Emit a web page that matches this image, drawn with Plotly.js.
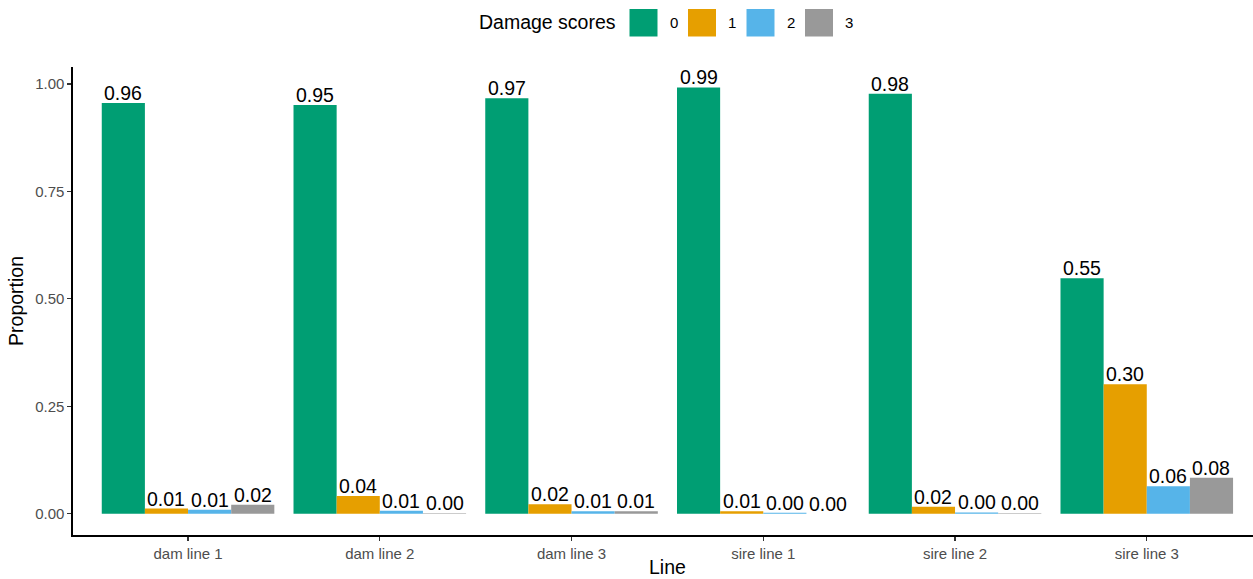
<!DOCTYPE html>
<html>
<head>
<meta charset="utf-8">
<script src="https://cdn.plot.ly/plotly-3.0.1.min.js"></script>
<style>
html,body{margin:0;padding:0;background:#fff;}
#chart{width:1253px;height:579px;}
</style>
</head>
<body>
<div id="chart"></div>
<script>
const categories = ['dam line 1','dam line 2','dam line 3','sire line 1','sire line 2','sire line 3'];
const scoreLabels = ['0','1','2','3'];
const score0 = [0.956, 0.951, 0.967, 0.992, 0.977, 0.548];
const score1 = [0.012, 0.041, 0.022, 0.006, 0.016, 0.301];
const score2 = [0.009, 0.007, 0.006, 0.002, 0.003, 0.064];
const score3 = [0.021, 0.001, 0.006, 0.000, 0.001, 0.084];
const yTickVals = [0, 0.25, 0.5, 0.75, 1.0];
const yTickText = ['0.00','0.25','0.50','0.75','1.00'];
const colors = ['#009E73','#E69F00','#56B4E9','#999999'];
const xTitle = 'Line';
const yTitle = 'Proportion';
const legendTitle = 'Damage scores';

const FONT = 'Liberation Sans, Arial, Helvetica, sans-serif';
const BIG = 19.5, SMALL = 15;
const series = [score0, score1, score2, score3];
const GROUP_WIDTH = 0.9;
const nSeries = series.length;
const barW = GROUP_WIDTH / nSeries;

const traces = series.map((vals, i) => ({
  type: 'bar',
  name: scoreLabels[i],
  x: categories,
  y: vals,
  marker: {color: colors[i], line: {width: 0}},
  showlegend: false,
  hoverinfo: 'x+y+name'
}));

// plot area in pixels (for legend placement in paper coords)
const L = 73, R = 1253, T = 67, B = 535;
const px = x => (x - L) / (R - L);
const py = y => (B - y) / (B - T);

const shapes = [];
const annotations = [];

// value labels above each bar (placed at the bar's own data position)
series.forEach((vals, j) => {
  vals.forEach((v, i) => {
    annotations.push({
      xref: 'x', yref: 'y',
      x: i + (j - (nSeries - 1) / 2) * barW,
      y: v,
      xanchor: 'center', yanchor: 'bottom',
      yshift: -3,
      showarrow: false,
      text: v.toFixed(2),
      font: {family: FONT, size: BIG, color: '#000000'}
    });
  });
});

// x axis title
annotations.push({
  xref: 'paper', yref: 'paper', x: px(667.5), y: py(578.5),
  xanchor: 'center', yanchor: 'bottom', borderpad: 0, showarrow: false,
  text: xTitle, font: {family: FONT, size: BIG, color: '#000000'}
});

annotations.push({
  xref: 'paper', yref: 'paper', x: px(618), y: py(22.5),
  xanchor: 'right', yanchor: 'middle', showarrow: false,
  text: legendTitle, font: {family: FONT, size: BIG, color: '#000000'}
});
scoreLabels.forEach((lab, i) => {
  const x0 = 629.5 + i * 58.5;
  shapes.push({
    type: 'rect', xref: 'paper', yref: 'paper',
    x0: px(x0), x1: px(x0 + 28), y0: py(36.5), y1: py(9),
    fillcolor: colors[i], line: {width: 0}
  });
  annotations.push({
    xref: 'paper', yref: 'paper', x: px(x0 + 38), y: py(22.5),
    xanchor: 'left', yanchor: 'middle', showarrow: false,
    text: lab, font: {family: FONT, size: SMALL, color: '#000000'}
  });
});

const layout = {
  width: 1253, height: 579,
  margin: {l: L, r: 1253 - R, t: T, b: 579 - B, pad: 0},
  paper_bgcolor: '#ffffff', plot_bgcolor: '#ffffff',
  barmode: 'group', bargap: 1 - GROUP_WIDTH, bargroupgap: 0,
  showlegend: false,
  font: {family: FONT},
  xaxis: {
    type: 'category',
    range: [-0.6, 5.554],
    showgrid: false, zeroline: false,
    showline: true, linecolor: '#000000', linewidth: 1.6,
    ticks: 'outside', ticklen: 4, tickwidth: 1.2, tickcolor: '#333333',
    tickfont: {family: FONT, size: SMALL, color: '#4D4D4D'}
  },
  yaxis: {
    range: [-0.0495, 1.0395],
    tickvals: yTickVals, ticktext: yTickText,
    showgrid: false, zeroline: false,
    showline: true, linecolor: '#000000', linewidth: 1.6,
    ticks: 'outside', ticklen: 4, tickwidth: 1.2, tickcolor: '#333333',
    tickfont: {family: FONT, size: SMALL, color: '#4D4D4D'},
    title: {text: yTitle, font: {family: FONT, size: BIG, color: '#000000'}, standoff: 6}
  },
  shapes: shapes,
  annotations: annotations
};

Plotly.newPlot('chart', traces, layout, {displayModeBar: false, staticPlot: true});
</script>
</body>
</html>
